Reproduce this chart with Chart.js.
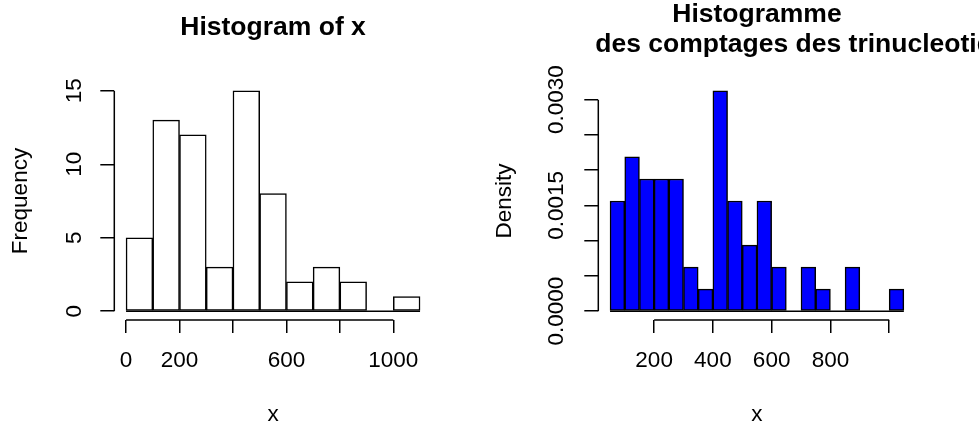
<!DOCTYPE html>
<html lang="en">
<head>
    <meta charset="UTF-8">
    <title>Histograms</title>
    <script src="https://cdn.jsdelivr.net/npm/chart.js"></script>
    <style>
    html, body { margin: 0; padding: 0; background: #FFFFFF; }
    .panel { position: absolute; top: 0; height: 427px; }
    #left { left: 0; width: 490px; }
    #right { left: 490px; width: 489px; }
    </style>
</head>
<body>
    <div class="panel" id="left"><canvas id="histLeft"></canvas></div>
    <div class="panel" id="right"><canvas id="histRight"></canvas></div>
    <script>
    // left panel: counts
    const leftBreaks = [0, 100, 200, 300, 400, 500, 600, 700, 800, 900, 1000, 1100];
    const leftCounts = [5, 13, 12, 3, 15, 8, 2, 3, 2, 0, 1];
    const leftXTicks = [0, 200, 400, 600, 800, 1000];
    const leftXLabels = ['0', '200', '', '600', '', '1000'];
    const leftYTicks = [0, 5, 10, 15];
    const leftYLabels = ['0', '5', '10', '15'];

    // right panel: densities
    const rightBreaks = [50, 100, 150, 200, 250, 300, 350, 400, 450, 500, 550, 600, 650, 700, 750, 800, 850, 900, 950, 1000, 1050];
    const rightDensity = [0.0015625, 0.0021875, 0.001875, 0.001875, 0.001875, 0.000625, 0.0003125, 0.003125, 0.0015625, 0.0009375,
                          0.0015625, 0.000625, 0, 0.000625, 0.0003125, 0, 0.000625, 0, 0, 0.0003125];
    const rightXTicks = [200, 400, 600, 800, 1000];
    const rightXLabels = ['200', '400', '600', '800', ''];
    const rightYTicks = [0, 0.0005, 0.001, 0.0015, 0.002, 0.0025, 0.003];
    const rightYLabels = ['0.0000', '', '', '0.0015', '', '', '0.0030'];

    const FONT = "'Liberation Sans', Arial, Helvetica, sans-serif";
    const font = { family: FONT, size: 22.5 };

    // R style axes: line only between first and last tick, plus the zero line under the bars
    const rAxes = {
        id: 'rAxes',
        afterDatasetsDraw(chart, args, opts) {
            const { ctx, scales: { x, y } } = chart;
            const xt = x.ticks, yt = y.ticks;
            ctx.save();
            ctx.strokeStyle = '#000';
            ctx.lineWidth = 1.5;
            ctx.beginPath();
            ctx.moveTo(x.getPixelForValue(xt[0].value), x.top);
            ctx.lineTo(x.getPixelForValue(xt[xt.length - 1].value), x.top);
            ctx.moveTo(y.right, y.getPixelForValue(yt[0].value));
            ctx.lineTo(y.right, y.getPixelForValue(yt[yt.length - 1].value));
            ctx.stroke();
            ctx.beginPath();
            const y0 = y.getPixelForValue(0);
            ctx.moveTo(x.getPixelForValue(opts.from), y0);
            ctx.lineTo(x.getPixelForValue(opts.to), y0);
            ctx.stroke();
            if (opts.line2) {
                ctx.fillStyle = '#000';
                ctx.font = 'bold 26.5px ' + FONT;
                ctx.textAlign = 'left';
                ctx.textBaseline = 'alphabetic';
                ctx.fillText(opts.line2, chart.chartArea.left - 3, 51.5);
            }
            ctx.restore();
        }
    };

    function makeHist(id, cfg) {
        const mids = cfg.values.map((v, i) => ({ x: (cfg.breaks[i] + cfg.breaks[i + 1]) / 2, y: v }));
        return new Chart(document.getElementById(id), {
            type: 'bar',
            data: {
                datasets: [{
                    data: mids,
                    backgroundColor: cfg.fill,
                    borderColor: '#000',
                    borderWidth: 1.5,
                    borderSkipped: false,
                    barPercentage: 1,
                    categoryPercentage: 1
                }]
            },
            plugins: [rAxes],
            options: {
                responsive: true,
                maintainAspectRatio: false,
                animation: false,
                layout: { padding: { top: 0, left: 0, bottom: 0, right: cfg.padRight } },
                plugins: {
                    legend: { display: false },
                    tooltip: { enabled: false },
                    title: {
                        display: true,
                        text: cfg.title,
                        fullSize: false,
                        color: '#000',
                        font: { family: FONT, size: 26.5, weight: 'bold', lineHeight: cfg.titleLH },
                        padding: cfg.titlePad
                    },
                    rAxes: { from: cfg.breaks[0], to: cfg.breaks[cfg.breaks.length - 1], line2: cfg.line2 }
                },
                scales: {
                    x: {
                        type: 'linear',
                        min: cfg.xRange[0],
                        max: cfg.xRange[1],
                        offset: false,
                        afterBuildTicks: s => { s.ticks = cfg.xTicks.map(v => ({ value: v })); },
                        afterFit: s => { s.height = 107; },
                        grid: { drawOnChartArea: false, drawTicks: true, offset: false, tickLength: 13, color: '#000', lineWidth: 1.5 },
                        border: { display: false },
                        ticks: {
                            color: '#000', font: font, padding: 14.5, maxRotation: 0, autoSkip: false,
                            callback: (v, i) => cfg.xLabels[i]
                        },
                        title: { display: true, text: 'x', color: '#000', font: font, padding: { top: 0, bottom: -1.5 } }
                    },
                    y: {
                        min: cfg.yRange[0],
                        max: cfg.yRange[1],
                        afterBuildTicks: s => { s.ticks = cfg.yTicks.map(v => ({ value: v })); },
                        afterFit: s => { s.width = cfg.yWidth; },
                        grid: { drawOnChartArea: false, drawTicks: true, tickLength: 14, color: '#000', lineWidth: 1.5 },
                        border: { display: false },
                        ticks: {
                            color: '#000', font: font, padding: cfg.yTickPad, minRotation: 90, maxRotation: 90,
                            crossAlign: 'center', autoSkip: false,
                            callback: (v, i) => cfg.yLabels[i]
                        },
                        title: { display: true, text: cfg.yTitle, color: '#000', font: font, padding: { top: cfg.yTitlePad, bottom: 0 } }
                    }
                }
            }
        });
    }

    makeHist('histLeft', {
        breaks: leftBreaks, values: leftCounts, fill: '#FFFFFF',
        xTicks: leftXTicks, xLabels: leftXLabels, yTicks: leftYTicks, yLabels: leftYLabels,
        xRange: [-44, 1144], yRange: [-0.6, 15.6],
        title: 'Histogram of x', titleLH: 1.2, titlePad: { top: 11.9, bottom: 38.3 },
        yTitle: 'Frequency', yTitlePad: 7.5, yWidth: 114.3, yTickPad: 13, padRight: 58.2
    });

    makeHist('histRight', {
        breaks: rightBreaks, values: rightDensity, fill: '#0000FF',
        xTicks: rightXTicks, xLabels: rightXLabels, yTicks: rightYTicks, yLabels: rightYLabels,
        xRange: [10, 1090], yRange: [-0.000125, 0.00325],
        title: 'Histogramme', titleLH: 1.0, titlePad: { top: 1.5, bottom: 54 },
        line2: 'des comptages des trinucleotides',
        yTitle: 'Density', yTitlePad: 1.5, yWidth: 108.3, yTickPad: -6.5, padRight: 63.4
    });
    </script>
</body>
</html>
